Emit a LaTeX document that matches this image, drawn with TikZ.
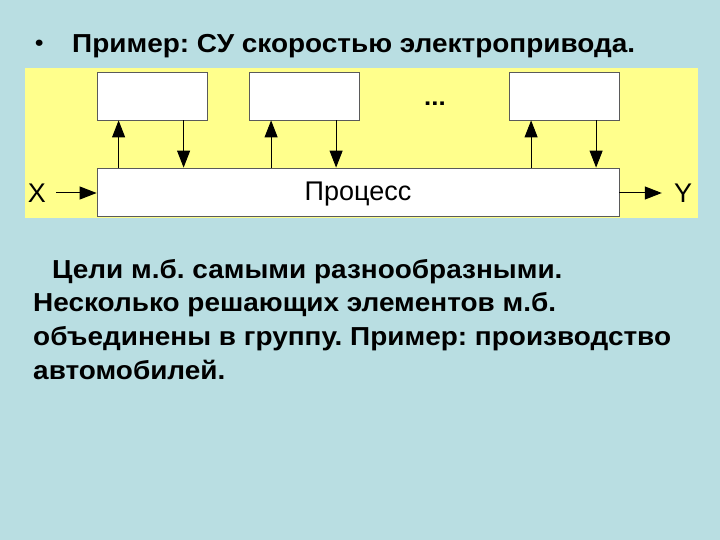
\documentclass[tikz,border=0pt]{standalone}
\usepackage{fontspec}
\setmainfont{Liberation Sans}
\usetikzlibrary{arrows.meta,calc}
\definecolor{bgblue}{RGB}{185,222,226}
\definecolor{band}{RGB}{255,255,140}
\definecolor{edge}{RGB}{90,90,90}
\frenchspacing
\tikzset{
  blk/.style={draw=edge,line width=0.8pt,fill=white,minimum width=110pt,minimum height=48pt,inner sep=0pt},
  arr/.style={line width=1pt,-{Triangle[length=17pt,width=13pt]}},
  lbl/.style={font=\fontsize{27}{30}\selectfont,inner sep=0pt},
  txt/.style={font=\bfseries\fontsize{26}{30}\selectfont\frenchspacing,anchor=base west,inner sep=0pt,xscale=1.075}
}
\begin{document}
\begin{tikzpicture}[x=1pt,y=-1pt]
\fill[bgblue] (0,0) rectangle (720,540);
\useasboundingbox (0,0) rectangle (720,540);
\fill[band] (25,68) rectangle (698,218);
% title
\node[txt,font=\bfseries\fontsize{22}{26}\selectfont] (bul) at (35,51) {•};
\node[txt] (title) at (72,53) {Пример: СУ скоростью электропривода.};
% blocks
\node[blk] (b1) at (152,96) {};
\node[blk] (b2) at (304.5,96) {};
\node[blk] (b3) at (564.5,96) {};
\node[txt,font=\bfseries\fontsize{24}{26}\selectfont,xscale=1] (dots) at (424,106) {...};
\node[blk,minimum width=522pt] (proc) at (358,192) {};
\node[lbl] (ptxt) at (358,194) {Процесс};
\node[lbl] (xl) at (37,193) {X};
\node[lbl] (yl) at (683,193) {Y};
% arrows
\foreach \b in {b1,b2,b3}{
  \coordinate (u\b) at ($(\b.south west)+(22,0)$);
  \coordinate (d\b) at ($(\b.south west)+(87,0)$);
  \draw[arr] (u\b |- proc.north) -- (u\b);
  \draw[arr] (d\b) -- (d\b |- proc.north);
}
\draw[arr,shorten <=10pt] (xl.east) -- (xl.east -| proc.west);
\draw[arr,shorten >=12pt] (yl.west -| proc.east) -- (yl.west);
% body text
\node[txt] (l1) at (52,278) {Цели м.б. самыми разнообразными.};
\node[txt] (l2) at (33,311) {Несколько решающих элементов м.б.};
\node[txt] (l3) at (33,345) {объединены в группу. Пример: производство};
\node[txt] (l4) at (33,379) {автомобилей.};
\end{tikzpicture}
\end{document}
